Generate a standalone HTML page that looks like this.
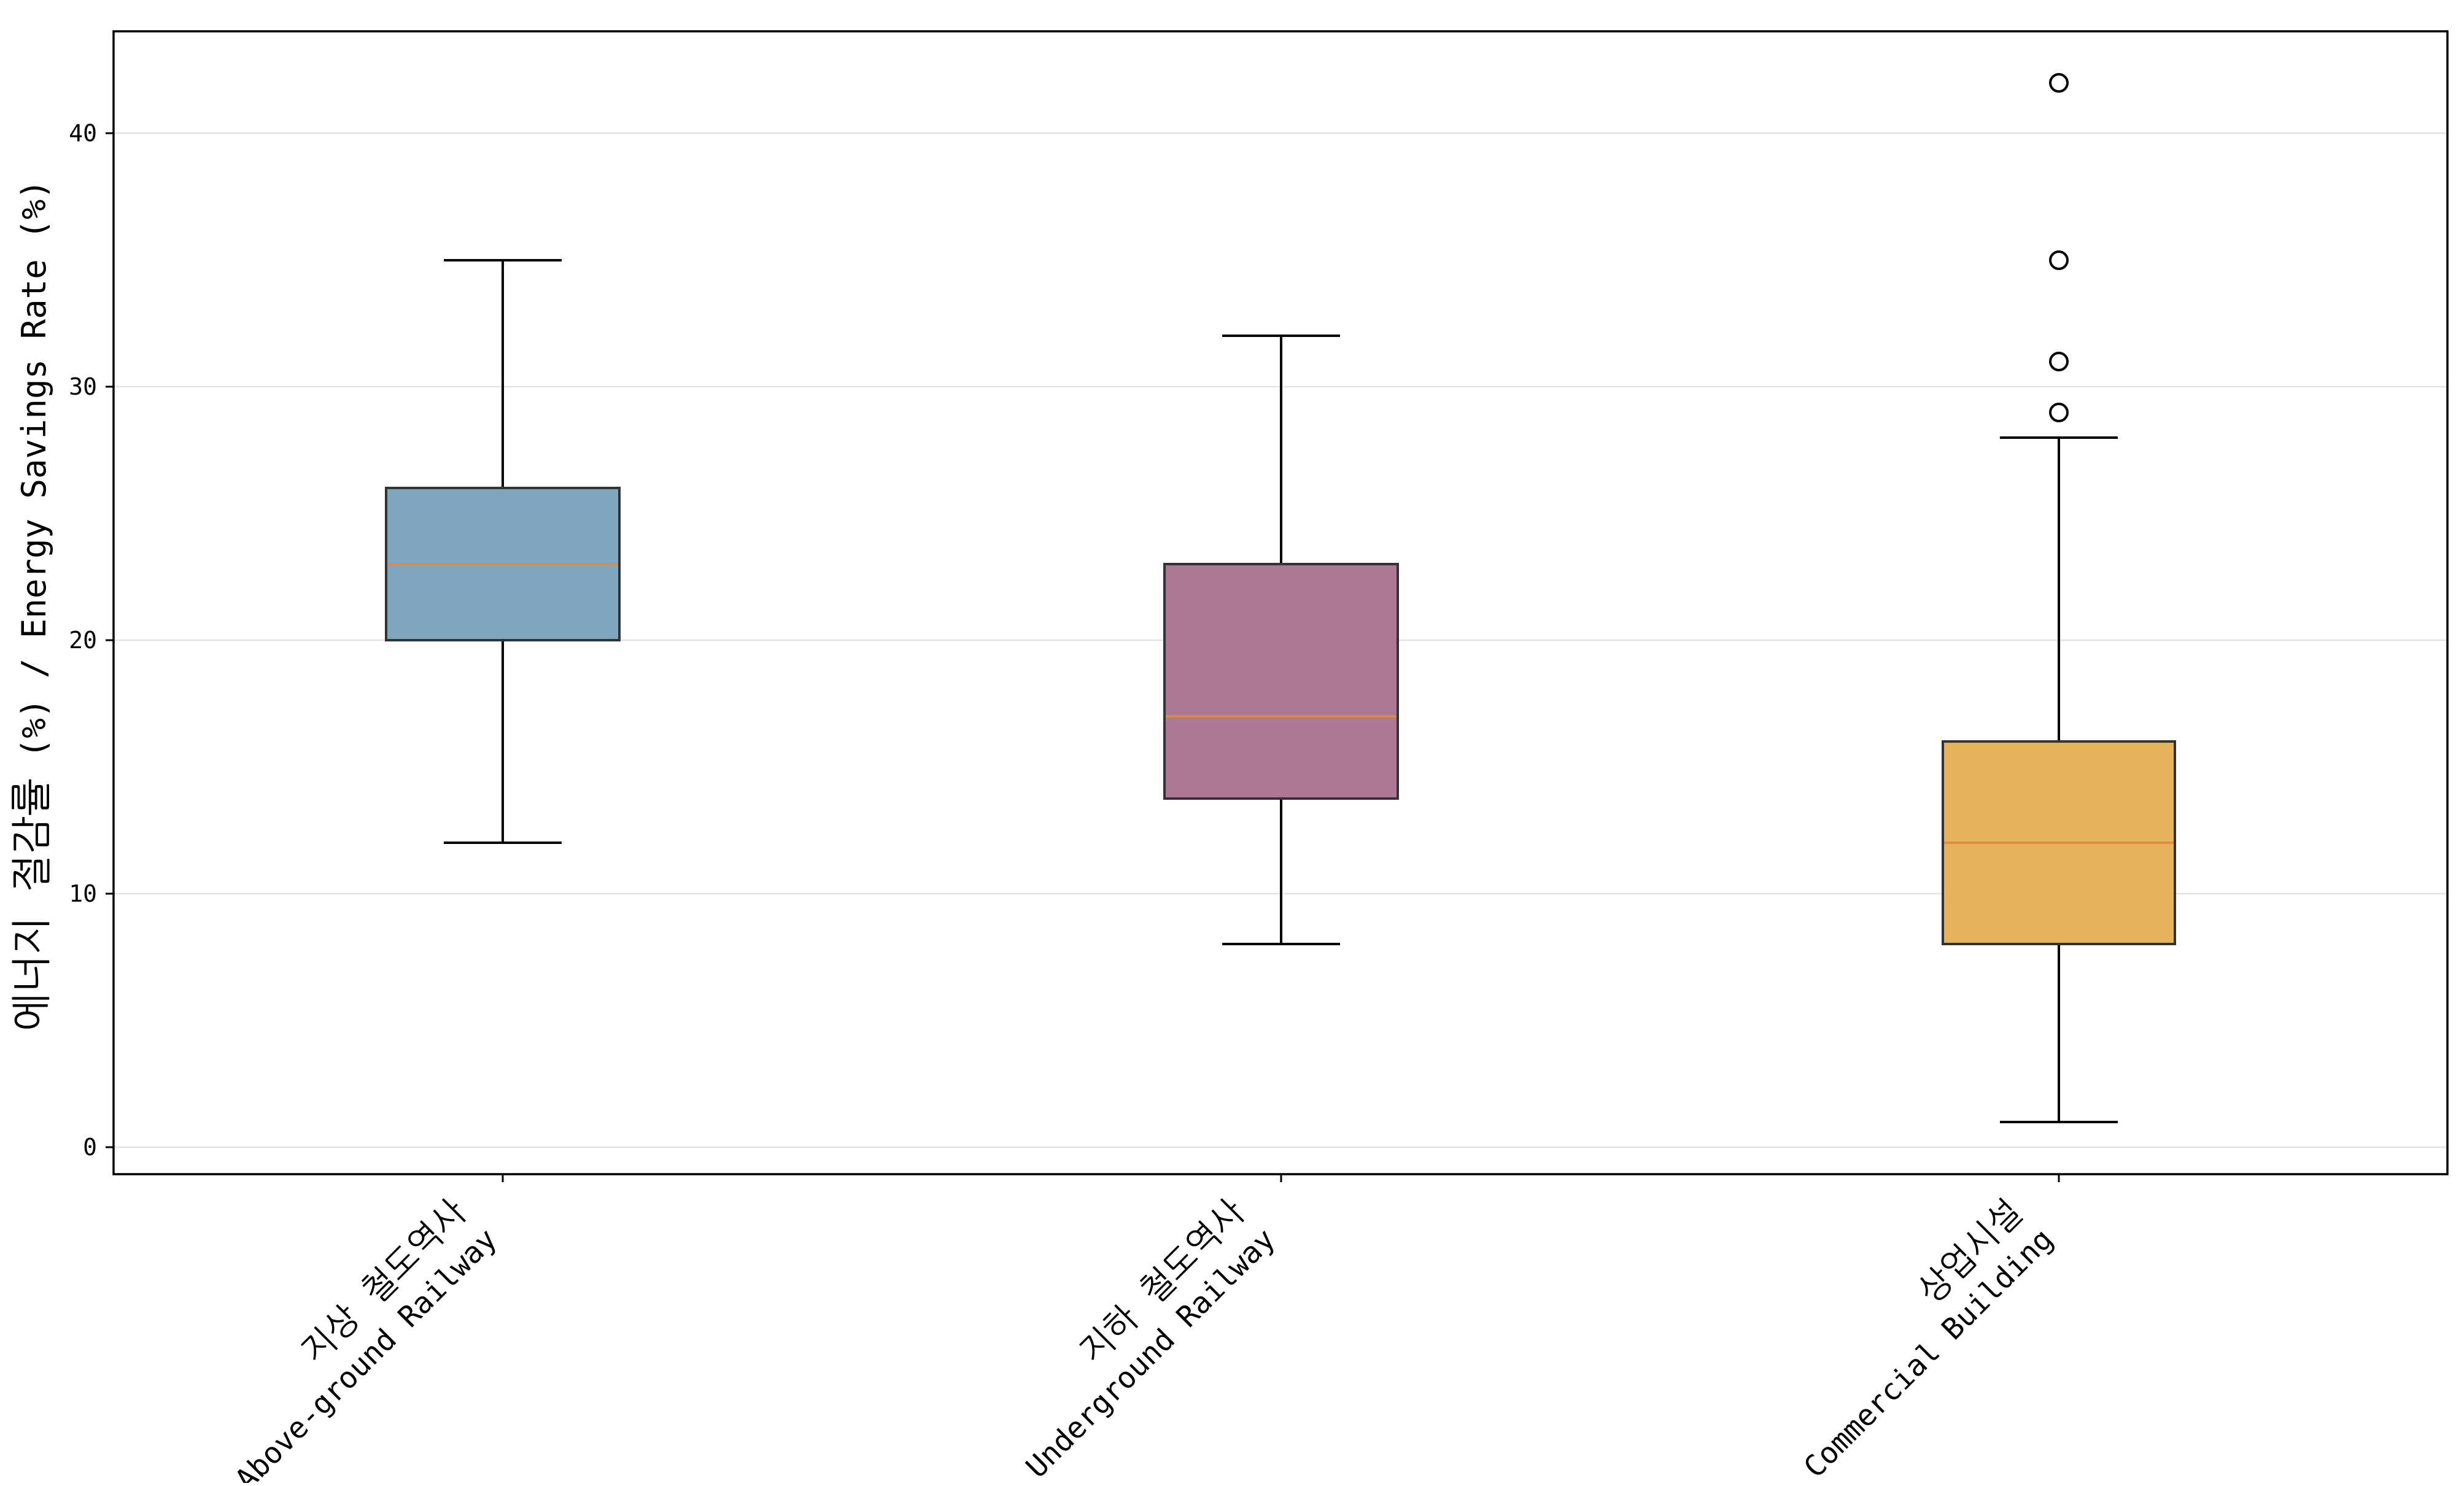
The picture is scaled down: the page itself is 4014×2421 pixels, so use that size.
<!DOCTYPE html>
<html><head><meta charset="utf-8"><style>html,body{margin:0;padding:0;background:#fff}</style></head>
<body>
<svg width="4014" height="2416" xmlns="http://www.w3.org/2000/svg" font-family="'DejaVu Sans Mono','Liberation Mono','NanumGothic',monospace">
<rect width="4014" height="2416" fill="#fff"/>
<g stroke="#e3e3e3" stroke-width="2.5">
<line x1="185" x2="3987" y1="1869" y2="1869"/>
<line x1="185" x2="3987" y1="1456" y2="1456"/>
<line x1="185" x2="3987" y1="1043" y2="1043"/>
<line x1="185" x2="3987" y1="630" y2="630"/>
<line x1="185" x2="3987" y1="217" y2="217"/>
</g>
<g stroke="#000" stroke-width="3">
<line x1="172" x2="185" y1="1869" y2="1869"/><line x1="172" x2="185" y1="1456" y2="1456"/>
<line x1="172" x2="185" y1="1043" y2="1043"/><line x1="172" x2="185" y1="630" y2="630"/>
<line x1="172" x2="185" y1="217" y2="217"/>
<line x1="819" x2="819" y1="1913" y2="1926"/><line x1="2087" x2="2087" y1="1913" y2="1926"/><line x1="3354" x2="3354" y1="1913" y2="1926"/>
</g>
<g font-size="38" text-anchor="end" fill="#000">
<text x="158" y="1882">0</text><text x="158" y="1469">10</text><text x="158" y="1056">20</text><text x="158" y="643">30</text><text x="158" y="230">40</text>
</g>
<g stroke="#000" stroke-width="4">
<line x1="819" x2="819" y1="1373" y2="1043"/><line x1="819" x2="819" y1="795" y2="424"/>
<line x1="723" x2="915" y1="1373" y2="1373"/><line x1="723" x2="915" y1="424" y2="424"/>
<line x1="2087" x2="2087" y1="1538" y2="1301"/><line x1="2087" x2="2087" y1="919" y2="547"/>
<line x1="1991" x2="2183" y1="1538" y2="1538"/><line x1="1991" x2="2183" y1="547" y2="547"/>
<line x1="3354" x2="3354" y1="1828" y2="1538"/><line x1="3354" x2="3354" y1="1208" y2="713"/>
<line x1="3258" x2="3450" y1="1828" y2="1828"/><line x1="3258" x2="3450" y1="713" y2="713"/>
</g>
<rect x="629" y="795" width="380" height="248" fill="#7fa7c2" stroke="#333" stroke-width="4"/>
<rect x="1897" y="919" width="380" height="382" fill="#ad7893" stroke="#333" stroke-width="4"/>
<rect x="3165" y="1208" width="378" height="330" fill="#e4b35c" stroke="#333" stroke-width="4"/>
<g stroke="#e08a3c" stroke-width="3.5">
<line x1="631" x2="1007" y1="919" y2="919"/>
<line x1="1899" x2="2275" y1="1167" y2="1167"/>
<line x1="3167" x2="3541" y1="1373" y2="1373"/>
</g>
<g fill="none" stroke="#000" stroke-width="4">
<circle cx="3354" cy="672" r="14"/><circle cx="3354" cy="589" r="14"/><circle cx="3354" cy="424" r="14"/><circle cx="3354" cy="135" r="14"/>
</g>
<rect x="185" y="51" width="3802" height="1862" fill="none" stroke="#000" stroke-width="3.5"/>
<g font-size="48" text-anchor="end" fill="#000">
<g transform="translate(762,1978) rotate(-45)"><text font-size="56">지상 철도역사</text></g>
<g transform="translate(812,2022) rotate(-45)"><text>Above-ground Railway</text></g>
<g transform="translate(2030,1978) rotate(-45)"><text font-size="56">지하 철도역사</text></g>
<g transform="translate(2080,2022) rotate(-45)"><text>Underground Railway</text></g>
<g transform="translate(3297,1978) rotate(-45)"><text font-size="56">상업시설</text></g>
<g transform="translate(3347,2022) rotate(-45)"><text>Commercial Building</text></g>
</g>
<text transform="translate(74,986) rotate(-90)" font-size="54" text-anchor="middle" fill="#000"><tspan font-size="66">에너지 절감률</tspan> (%) / Energy Savings Rate (%)</text>
</svg>
</body></html>
